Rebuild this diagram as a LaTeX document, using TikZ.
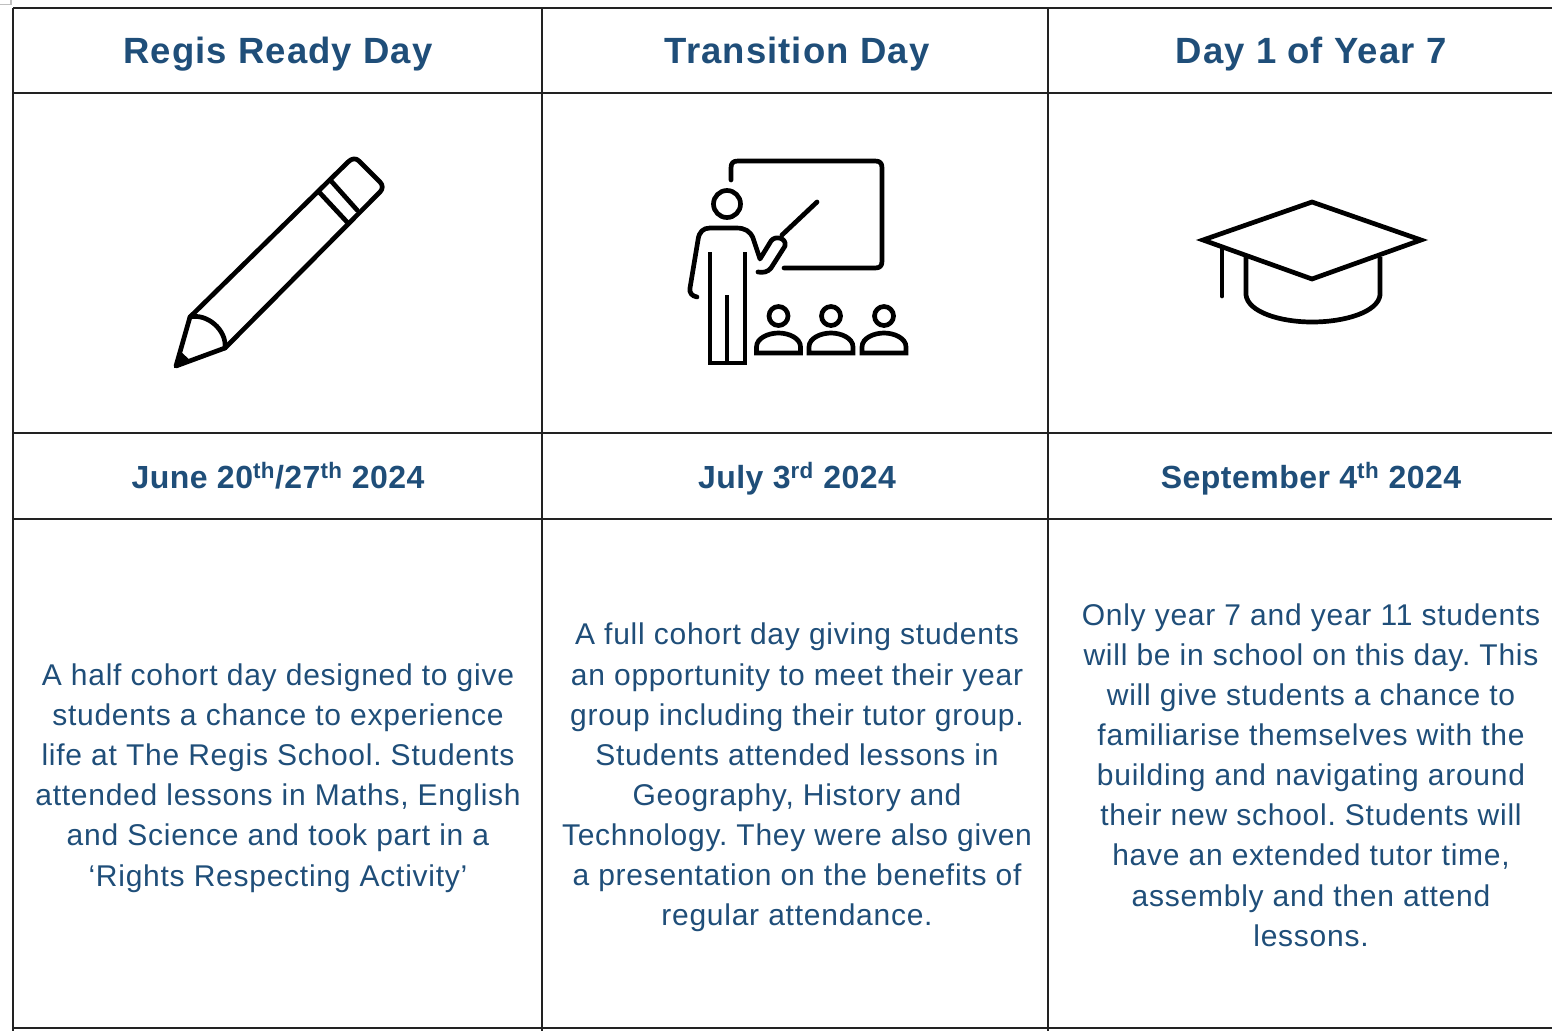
\documentclass[tikz,border=0pt]{standalone}
\usepackage{fontspec}
\setmainfont{Liberation Sans}
\newfontfamily\headfont[LetterSpace=3]{Liberation Sans}
\newfontfamily\datefont[LetterSpace=1.5]{Liberation Sans}
\newfontfamily\bodyfont[LetterSpace=2.5]{Liberation Sans}
\definecolor{ink}{HTML}{1F4E79}
\definecolor{grid}{HTML}{222222}
\begin{document}
\begin{tikzpicture}[x=1pt,y=-1pt,
  gridline/.style={draw=grid,line width=1.7pt},
  icon/.style={draw=black,line width=4.7pt,line join=round,line cap=round},
  heading/.style={text=ink,font=\headfont\fontsize{36.5}{40}\selectfont\bfseries,anchor=base,inner sep=0pt},
  datelabel/.style={text=ink,font=\datefont\fontsize{32}{36}\selectfont\bfseries,anchor=base,inner sep=0pt},
  bodytext/.style={text=ink,font=\bodyfont\fontsize{30}{40.1}\selectfont\frenchspacing,align=center,anchor=center,inner sep=0pt}]
\useasboundingbox (0,0) rectangle (1552,1031);
\fill[white] (0,0) rectangle (1552,1031);
\draw[draw=gray!50,line width=1.5pt] (0,4.5) -- (11,4.5) -- (11,0);
% grid
\foreach \yy in {8,93,433,519,1028} \draw[gridline] (13,\yy) -- (1552,\yy);
\foreach \xx in {13,542,1048} \draw[gridline] (\xx,8) -- (\xx,1031);
% headings
\node[heading] (h1) at (278,63.5) {Regis Ready Day};
\node[heading] (h2) at (797,63.5) {Transition Day};
\node[heading] (h3) at (1311,63.5) {Day 1 of Year 7};
% dates
\node[datelabel] (d1) at (278,488) {June 20\textsuperscript{th}/27\textsuperscript{th} 2024};
\node[datelabel] (d2) at (797,488) {July 3\textsuperscript{rd} 2024};
\node[datelabel] (d3) at (1311,488) {September 4\textsuperscript{th} 2024};
% body
\node[bodytext] (b1) at (278,778) {A half cohort day designed to give\\students a chance to experience\\life at The Regis School. Students\\attended lessons in Maths, English\\and Science and took part in a\\‘Rights Respecting Activity’};
\node[bodytext] (b2) at (797,777.5) {A full cohort day giving students\\an opportunity to meet their year\\group including their tutor group.\\Students attended lessons in\\Geography, History and\\Technology. They were also given\\a presentation on the benefits of\\regular attendance.};
\node[bodytext] (b3) at (1311,775) {Only year 7 and year 11 students\\will be in school on this day. This\\will give students a chance to\\familiarise themselves with the\\building and navigating around\\their new school. Students will\\have an extended tutor time,\\assembly and then attend\\lessons.};
% pencil
\fill[black] (174,368) -- (179,350) -- (192,362) -- cycle;
\draw[icon] (176,366) -- (190,317) -- (346,164) -- (348,162) .. controls (352,158) and (356,158) .. (359,161)
 -- (380,182) .. controls (383,185) and (383,189) .. (380,192) -- (225,348) -- cycle;
\draw[icon] (190,317) .. controls (207,313) and (227,330) .. (225,348);
\draw[icon] (320,193) -- (347,222);
\draw[icon] (332,182) -- (357,210);
% teacher
\draw[icon] (731,180) -- (731,168) .. controls (731,163) and (733,161) .. (738,161) -- (875,161) .. controls (880,161) and (882,163) .. (882,168) -- (882,261) .. controls (882,266) and (880,268) .. (875,268) -- (784,268);
\draw[icon] (727,204) circle[radius=13.5];
\draw[icon] (697,297) .. controls (692,296) and (689,293) .. (690,288) -- (698,240) .. controls (699,232) and (703,228) .. (710,228) -- (736,228) .. controls (745,228) and (750,231) .. (753,238) -- (760,259) -- (771,241) .. controls (775,235) and (787,238) .. (785,246) -- (771,268) .. controls (768,272) and (763,273) .. (758,272);
\draw[icon] (782,235) -- (817,202);
\draw[icon,line cap=butt,line join=miter] (710,252) -- (710,363) -- (745,363) -- (745,252);
\draw[icon,line cap=butt] (727,295) -- (727,363);
\foreach \nm/\cx in {s1/778.5,s2/831,s3/884} {
  \draw[icon] (\cx,316) circle[radius=9.5];
  \draw[icon,line join=miter] (\cx-22,353) -- (\cx+22,353) -- (\cx+22,347) .. controls (\cx+22,338) and (\cx+10,333) .. (\cx,333) .. controls (\cx-10,333) and (\cx-22,338) .. (\cx-22,347) -- cycle;
}
% cap
\draw[icon,line join=miter,miter limit=10] (1203,240) -- (1312,202) -- (1421,240) -- (1312,279) -- cycle;
\draw[icon] (1222,249) -- (1222,296);
\draw[icon,line cap=butt] (1246,257) -- (1246,295) .. controls (1248,312) and (1280,322) .. (1312,322) .. controls (1345,322) and (1378,312) .. (1380,295) -- (1380,257);
\end{tikzpicture}
\end{document}
